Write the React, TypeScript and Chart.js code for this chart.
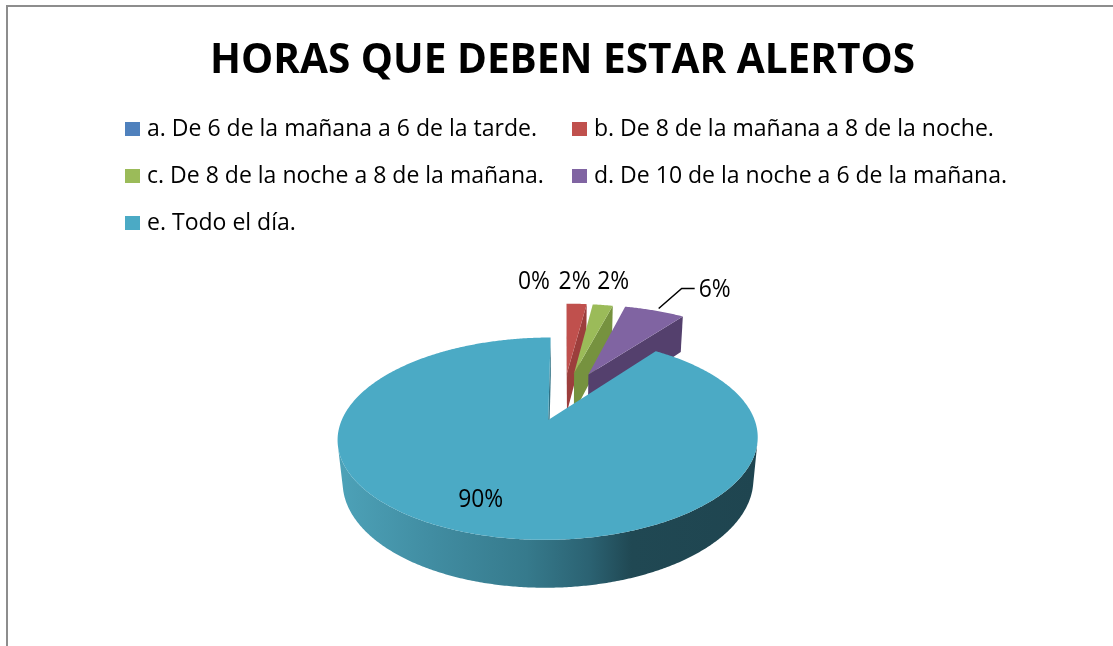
import { useEffect, useRef } from "react";
import { Chart, registerables } from "chart.js";

Chart.register(...registerables);

// ---------- data ----------
const chartTitle = "HORAS QUE DEBEN ESTAR ALERTOS";
const categories = [
  "a. De 6 de la mañana a 6 de la tarde.",
  "b. De 8 de la mañana a 8 de la noche.",
  "c. De 8 de la noche a 8 de la mañana.",
  "d. De 10 de la noche a 6 de la mañana.",
  "e. Todo el día.",
];
const percentages = [0, 2, 2, 6, 90];

// ---------- styles ----------
const topColors = ["#4F81BD", "#C0504D", "#9BBB59", "#8064A2", "#4BAAC5"];
const sideColors = ["#3d6593", "#9c3e3c", "#76923f", "#54406d", "#2f7184"];
const explodeBySlice = [0.3, 0.3, 0.3, 0.31, 0.24];
const wallGradient: [number, string][] = [
  [0, "#4da2b8"],
  [0.22, "#418da2"],
  [0.45, "#367a8c"],
  [0.6, "#2b6272"],
  [0.7, "#204853"],
  [1, "#1f4550"],
];
const VIEW = { D0: 5, tiltDeg: 27, depth: 0.235 };
const FONT = '"Open Sans", "Noto Sans", sans-serif';
// label placement: mode + pixel nudges (x, baseline)
const labelStyle = [
  { mode: "outside", dx: -29.5, dy: -4 },
  { mode: "outside", dx: -3.5, dy: -4.5 },
  { mode: "outside", dx: 6, dy: -6 },
  { mode: "leader", dx: 0, dy: 0 },
  { mode: "inside", dx: -10, dy: 7 },
];

function drawScaledText(
  ctx: CanvasRenderingContext2D,
  text: string,
  x: number,
  y: number,
  font: string,
  color: string,
  scaleX: number,
  align: "left" | "center"
) {
  ctx.save();
  ctx.font = font;
  ctx.fillStyle = color;
  ctx.textBaseline = "alphabetic";
  ctx.textAlign = "left";
  const w = ctx.measureText(text).width * scaleX;
  const left = align === "center" ? x - w / 2 : x;
  ctx.translate(left, y);
  ctx.scale(scaleX, 1);
  ctx.fillText(text, 0, 0);
  ctx.restore();
}

const pie3d = {
  id: "pie3d",
  beforeDatasetsDraw() {
    return false;
  },
  afterDraw(chart: any) {
    const ctx: CanvasRenderingContext2D = chart.ctx;
    const meta = chart.getDatasetMeta(0);
    const arcs = meta.data as any[];
    if (!arcs.length) return;

    // frame
    ctx.save();
    ctx.fillStyle = "#8d8d8d";
    ctx.fillRect(6, 5, 2, chart.height - 5);
    ctx.fillRect(6, 5, chart.width - 6, 2);
    ctx.restore();

    const cx = arcs[0].x;
    const cy = arcs[0].y;
    const Rpx = arcs[0].outerRadius;
    const { D0, depth } = VIEW;
    const tilt = (VIEW.tiltDeg * Math.PI) / 180;
    const sa = Math.sin(tilt);
    const ca = Math.cos(tilt);
    const f = Rpx * D0;
    const P = (X: number, Z: number, h: number): [number, number] => {
      const v = Z * sa - h * ca;
      const w = D0 - Z * ca - h * sa;
      return [cx + (f * X) / w, cy + (f * v) / w];
    };
    const camZ = D0 * ca;

    const total = percentages.reduce((a, b) => a + b, 0);
    const slices = arcs.map((arc, i) => {
      const s = arc.startAngle;
      const e = arc.endAngle;
      const mid = (s + e) / 2;
      const ex = explodeBySlice[i];
      return { i, s, e, mid, ox: ex * Math.cos(mid), oz: ex * Math.sin(mid) };
    });

    const poly = (pts: [number, number][]) => {
      ctx.beginPath();
      pts.forEach(([x, y], j) => (j ? ctx.lineTo(x, y) : ctx.moveTo(x, y)));
      ctx.closePath();
    };

    const order = slices.filter((sl) => sl.e - sl.s > 1e-6).sort((a, b) => a.oz - b.oz);
    for (const sl of order) {
      const { i, s, e, ox, oz } = sl;
      // radial faces
      const faces = [
        { t: s, nX: Math.sin(s), nZ: -Math.cos(s) },
        { t: e, nX: -Math.sin(e), nZ: Math.cos(e) },
      ];
      for (const fc of faces) {
        const dot = fc.nX * (0 - ox) + fc.nZ * (camZ - oz);
        if (dot <= 0) continue;
        const X1 = ox + Math.cos(fc.t);
        const Z1 = oz + Math.sin(fc.t);
        poly([P(ox, oz, 0), P(X1, Z1, 0), P(X1, Z1, -depth), P(ox, oz, -depth)]);
        ctx.fillStyle = sideColors[i];
        ctx.fill();
      }
      // outer wall
      const n = Math.max(2, Math.ceil((e - s) / (Math.PI / 360)));
      const runs: number[][] = [];
      let run: number[] = [];
      for (let k = 0; k <= n; k++) {
        const t = s + ((e - s) * k) / n;
        const vis = -1 - ox * Math.cos(t) + (camZ - oz) * Math.sin(t) > 0;
        if (vis) run.push(t);
        else {
          if (run.length > 1) runs.push(run);
          run = [];
        }
      }
      if (run.length > 1) runs.push(run);
      for (const r of runs) {
        const top = r.map((t) => P(ox + Math.cos(t), oz + Math.sin(t), 0));
        const bot = r.map((t) => P(ox + Math.cos(t), oz + Math.sin(t), -depth));
        const pts = top.concat(bot.reverse());
        poly(pts);
        if (i === 4) {
          const xs = pts.map((p) => p[0]);
          const g = ctx.createLinearGradient(Math.min(...xs), 0, Math.max(...xs), 0);
          wallGradient.forEach(([o, c]) => g.addColorStop(o, c));
          ctx.fillStyle = g;
        } else ctx.fillStyle = sideColors[i];
        ctx.fill();
      }
      // top face
      const m = Math.max(2, Math.ceil((e - s) / (Math.PI / 360)));
      const tp: [number, number][] = [P(ox, oz, 0)];
      for (let k = 0; k <= m; k++) {
        const t = s + ((e - s) * k) / m;
        tp.push(P(ox + Math.cos(t), oz + Math.sin(t), 0));
      }
      poly(tp);
      ctx.fillStyle = topColors[i];
      ctx.fill();
    }

    // data labels
    const LFONT = `25px ${FONT}`;
    ctx.save();
    ctx.font = LFONT;
    const labelScale = 45 / ctx.measureText("90%").width;
    ctx.restore();
    slices.forEach((sl) => {
      const st = labelStyle[sl.i];
      const txt = Math.round((percentages[sl.i] / total) * 100) + "%";
      const dirX = Math.cos(sl.mid);
      const dirZ = Math.sin(sl.mid);
      if (st.mode === "outside") {
        const [x, y] = P(sl.ox + 1.18 * dirX, sl.oz + 1.18 * dirZ, 0);
        drawScaledText(ctx, txt, x + st.dx, y + st.dy, LFONT, "#000", labelScale, "center");
      } else if (st.mode === "leader") {
        const [x0, y0] = P(sl.ox + dirX, sl.oz + dirZ, 0);
        const sx = x0 + 4, sy = y0 - 2;
        const ex = sx + 23, ey = sy - 20;
        ctx.save();
        ctx.strokeStyle = "#000";
        ctx.lineWidth = 1.5;
        ctx.beginPath();
        ctx.moveTo(sx, sy);
        ctx.lineTo(ex, ey);
        ctx.lineTo(ex + 13, ey);
        ctx.stroke();
        ctx.restore();
        drawScaledText(ctx, txt, ex + 17 + st.dx, ey + 8.5 + st.dy, LFONT, "#000", labelScale, "left");
      } else {
        const [x, y] = P(sl.ox + 0.75 * dirX, sl.oz + 0.75 * dirZ, 0);
        drawScaledText(ctx, txt, x + st.dx, y + st.dy, LFONT, "#000", labelScale, "center");
      }
    });

    // title
    const TFONT = `bold 41px ${FONT}`;
    ctx.save();
    ctx.font = TFONT;
    const titleScale = 705 / ctx.measureText(chartTitle).width;
    ctx.restore();
    drawScaledText(ctx, chartTitle, 562.5, 73, TFONT, "#000", titleScale, "center");

    // legend
    const GFONT = `23px ${FONT}`;
    ctx.save();
    ctx.font = GFONT;
    const legScale = 390 / ctx.measureText(categories[0]).width;
    ctx.restore();
    const colX = [125, 572];
    categories.forEach((lab, i) => {
      const row = Math.floor(i / 2);
      const col = i % 2;
      const sx = colX[col];
      const sy = 122 + row * 47;
      ctx.fillStyle = topColors[i];
      ctx.fillRect(sx, sy, 15, 14);
      drawScaledText(ctx, lab, sx + 22, sy + 14, GFONT, "#000", legScale, "left");
    });
  },
};

export default function App() {
  const ref = useRef<HTMLCanvasElement>(null);
  useEffect(() => {
    const chart = new Chart(ref.current as HTMLCanvasElement, {
      type: "pie",
      data: {
        labels: categories,
        datasets: [
          {
            data: percentages,
            backgroundColor: topColors,
            borderWidth: 0,
            radius: 198,
          } as any,
        ],
      },
      options: {
        animation: false,
        responsive: true,
        maintainAspectRatio: false,
        events: [],
        layout: { padding: { left: 14, right: 0, top: 151, bottom: 0 } },
        plugins: {
          legend: { display: false },
          title: { display: false },
          tooltip: { enabled: false },
        },
      },
      plugins: [pie3d as any],
    });
    return () => chart.destroy();
  }, []);
  return (
    <div style={{ position: "absolute", left: 0, top: 0, width: 1113, height: 646, background: "#fff" }}>
      <canvas ref={ref} />
    </div>
  );
}
